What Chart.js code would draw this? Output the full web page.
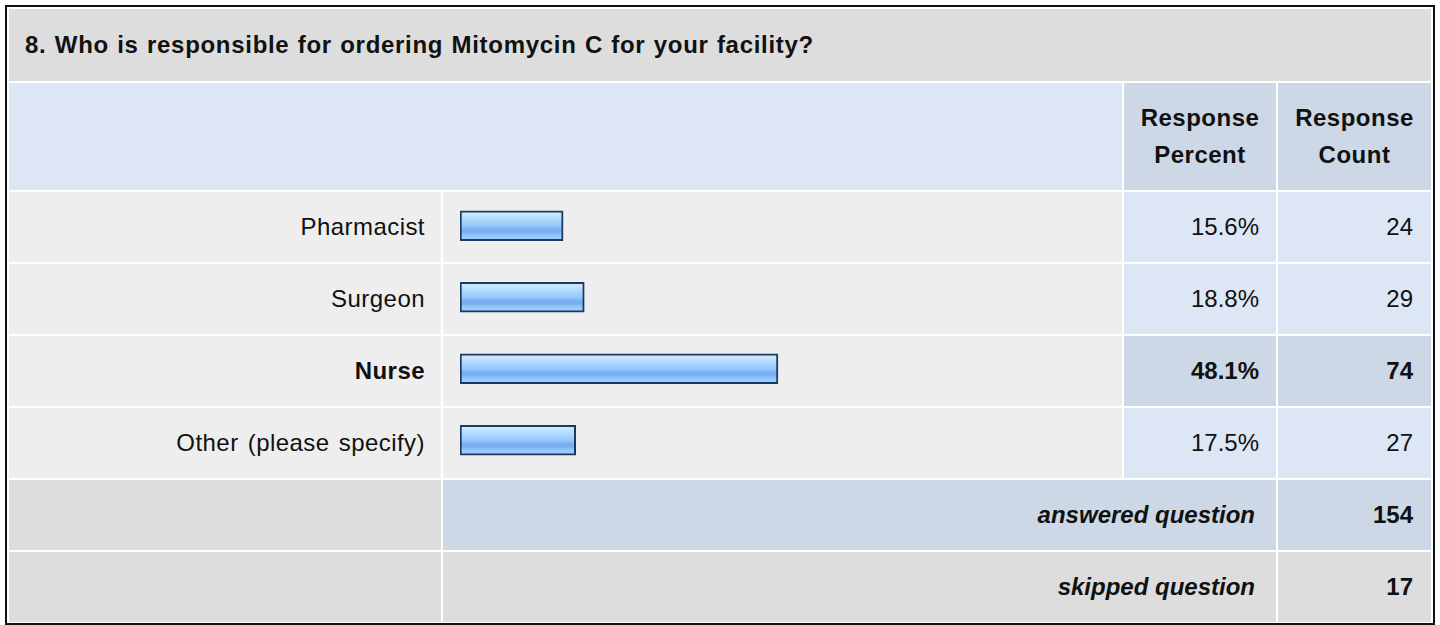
<!DOCTYPE html>
<html>
<head>
<meta charset="utf-8">
<script src="https://cdn.jsdelivr.net/npm/chart.js@4/dist/chart.umd.min.js"></script>
<style>
  html, body { margin: 0; padding: 0; background: #fff; }
  body { width: 1440px; height: 625px; position: relative; overflow: hidden;
         font-family: "Liberation Sans", Arial, Helvetica, sans-serif; color: #111; }
  #frame { position: absolute; left: 5px; top: 5px; width: 1426px; height: 616px; border: 2px solid #111; }
  .cell { position: absolute; box-sizing: border-box; font-size: 24px; line-height: 1; display: flex; align-items: center; white-space: nowrap; }
  .r { justify-content: flex-end; }
  .b { font-weight: bold; }
  .bi { font-weight: bold; font-style: italic; }
  .lbl { letter-spacing: 0.45px; word-spacing: 2px; }
  .ttl { letter-spacing: 0.7px; word-spacing: 1px; }
  #chartWrap { position: absolute; left: 443px; top: 190px; width: 679px; height: 286px; }
</style>
</head>
<body>
<div id="frame"></div>
<div id="table"></div>
<div id="chartWrap"><canvas id="c"></canvas></div>
<script>
const title = "8. Who is responsible for ordering Mitomycin C for your facility?";
const headerPercent = ["Response", "Percent"];
const headerCount = ["Response", "Count"];
const categories = ["Pharmacist", "Surgeon", "Nurse", "Other (please specify)"];
const percentValues = [15.6, 18.8, 48.1, 17.5];
const countValues = [24, 29, 74, 27];
const answeredLabel = "answered question";
const answeredCount = 154;
const skippedLabel = "skipped question";
const skippedCount = 17;

const table = document.getElementById('table');
function cell(x1, x2, y1, y2, bg, html, cls, pad) {
  const d = document.createElement('div');
  d.className = 'cell ' + (cls || '');
  d.style.left = x1 + 'px'; d.style.top = y1 + 'px';
  d.style.width = (x2 - x1) + 'px'; d.style.height = (y2 - y1) + 'px';
  d.style.background = bg;
  if (pad) d.style.padding = pad;
  d.innerHTML = html || '';
  table.appendChild(d);
  return d;
}
// title
cell(9, 1431, 9, 81, '#DDDDDD', title, 'b ttl', '0 0 0 16px');
// header
cell(9, 1122, 83, 190, '#DCE6F4');
const hp = cell(1124, 1276, 83, 190, '#CCD8E6', headerPercent.join('<br>'), 'b', '0');
const hc = cell(1278, 1431, 83, 190, '#CCD8E6', headerCount.join('<br>'), 'b', '0');
[hp, hc].forEach(h => { h.style.justifyContent = 'center'; h.style.textAlign = 'center'; h.style.lineHeight = '37px'; h.style.paddingBottom = '2px'; h.style.letterSpacing = '0.5px'; });

const maxIdx = percentValues.indexOf(Math.max(...percentValues));
categories.forEach((c, i) => {
  const y1 = 192 + i * 72, y2 = y1 + 70;
  const hi = i === maxIdx;
  cell(9, 441, y1, y2, '#EEEEEE', c, 'r lbl' + (hi ? ' b' : ''), '0 16px 0 0');
  cell(443, 1122, y1, y2, '#EEEEEE');
  cell(1124, 1276, y1, y2, hi ? '#CCD8E6' : '#DCE6F4', percentValues[i].toFixed(1) + '%', 'r' + (hi ? ' b' : ''), '0 17px 0 0');
  cell(1278, 1431, y1, y2, hi ? '#CCD8E6' : '#DCE6F4', String(countValues[i]), 'r' + (hi ? ' b' : ''), '0 18px 0 0');
});
// answered
cell(9, 441, 480, 550, '#DDDDDD');
cell(443, 1276, 480, 550, '#CCD8E6', answeredLabel, 'r bi', '0 21px 0 0');
cell(1278, 1431, 480, 550, '#CCD8E6', String(answeredCount), 'r b', '0 18px 0 0');
// skipped
cell(9, 441, 552, 622, '#DDDDDD');
cell(443, 1276, 552, 622, '#DDDDDD', skippedLabel, 'r bi', '0 21px 0 0');
cell(1278, 1431, 552, 622, '#DDDDDD', String(skippedCount), 'r b', '0 18px 0 0');

function barFill(ctx) {
  const chart = ctx.chart;
  if (!chart.chartArea || !chart.scales.y) return '#9CCBFF';
  const y = chart.scales.y.getPixelForValue(ctx.dataIndex);
  const g = chart.ctx.createLinearGradient(0, y - 15, 0, y + 15);
  g.addColorStop(0.0, '#D6ECFF');
  g.addColorStop(0.2, '#BEE0FF');
  g.addColorStop(0.35, '#A6D3FF');
  g.addColorStop(0.5, '#98C9FF');
  g.addColorStop(0.6, '#7CB2F2');
  g.addColorStop(0.72, '#78AEEE');
  g.addColorStop(0.8, '#90C4FF');
  g.addColorStop(1.0, '#A6D3FF');
  return g;
}

new Chart(document.getElementById('c'), {
  type: 'bar',
  data: {
    labels: categories,
    datasets: [{
      data: percentValues,
      backgroundColor: barFill,
      borderColor: '#1C3960',
      borderWidth: 2,
      borderSkipped: false,
      barThickness: 30
    }]
  },
  options: {
    indexAxis: 'y',
    responsive: true,
    maintainAspectRatio: false,
    animation: false,
    events: [],
    layout: { padding: { left: 17, right: 1, top: 0, bottom: 0 } },
    plugins: { legend: { display: false }, tooltip: { enabled: false } },
    scales: {
      x: { display: false, min: 0, max: 100 },
      y: { display: false }
    }
  }
});
</script>
</body>
</html>
